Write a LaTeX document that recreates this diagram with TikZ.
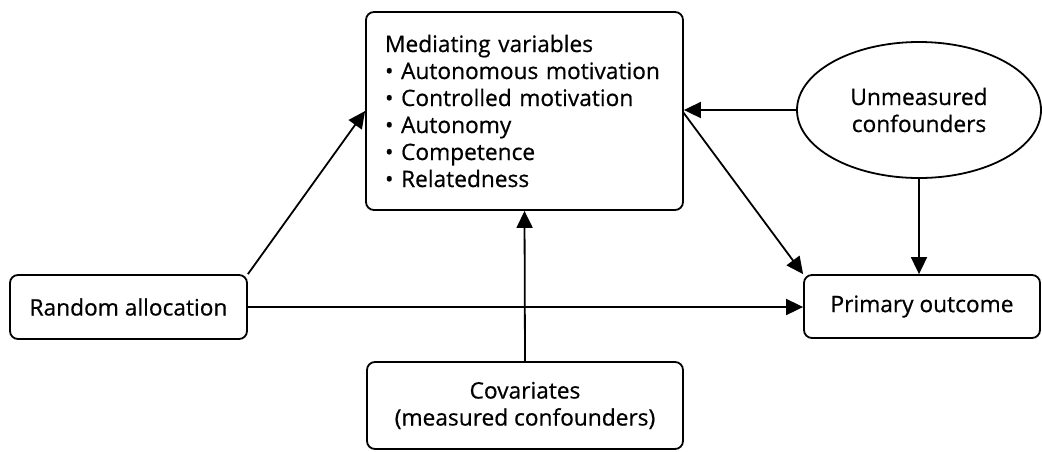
\documentclass[tikz,border=0pt]{standalone}
\usepackage{fontspec}
\setmainfont{Open Sans}[FakeBold=0.6]
\usetikzlibrary{shapes.geometric,arrows.meta}
\begin{document}
\begin{tikzpicture}[x=1pt,y=-1pt,
  every node/.style={font=\fontsize{22.7}{27}\selectfont},
  box/.style={draw,line width=1.8pt,rounded corners=8pt,inner sep=0pt,align=center},
  oval/.style={draw,line width=1.8pt,ellipse,inner sep=0pt,align=center},
  conn/.style={line width=1.8pt,-{Triangle[length=17pt,width=16pt]}}]
\useasboundingbox (0,0) rectangle (1042,451);
\node[box,minimum width=317pt,minimum height=198pt,text width=279pt,align=left] (med) at (524.5,111)
  {Mediating variables\\ \textbullet{} Autonomous motivation\\ \textbullet{} Controlled motivation\\ \textbullet{} Autonomy\\ \textbullet{} Competence\\ \textbullet{} Relatedness\\[8pt]};
\node[oval,minimum width=244pt,minimum height=136pt] (unm) at (919,110) {Unmeasured\\confounders};
\node[box,minimum width=237pt,minimum height=64pt] (rand) at (128.5,307) {Random allocation};
\node[box,minimum width=236pt,minimum height=63pt] (prim) at (922,306.5) {Primary outcome};
\node[box,minimum width=316pt,minimum height=87pt] (cov) at (525,405.5) {Covariates\\(measured confounders)};
\coordinate (medR) at (683,112);
\draw[conn] (rand.north east) -- (med.west);
\draw[conn] (rand.east) -- (rand.east -| prim.west);
\draw[conn] (cov.north) -- (med.south);
\draw[conn] (unm.west) -- (unm.west -| med.east);
\draw[conn] (medR) -- (prim.north west);
\draw[conn] (unm.south) -- (unm.south |- prim.north);
\end{tikzpicture}
\end{document}
